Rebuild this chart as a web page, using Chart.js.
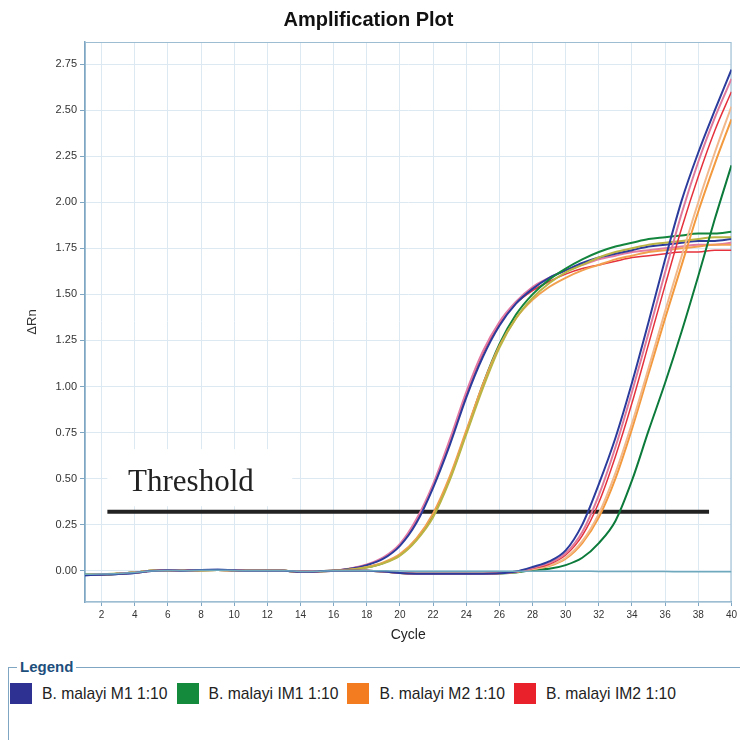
<!DOCTYPE html>
<html>
<head>
<meta charset="utf-8">
<script src="https://cdn.jsdelivr.net/npm/chart.js@4.4.1/dist/chart.umd.min.js"></script>
<style>
  body { margin: 0; background: #fff; font-family: Arial, "Liberation Sans", sans-serif; }
  #wrap { position: relative; width: 740px; height: 740px; overflow: hidden; }
  #grafico { position: absolute; left: 0; top: 0; }
  #legend-box {
    position: absolute; left: 8px; top: 667px; width: 760px; height: 90px;
    border-top: 1px solid #7fa7c4; border-left: 1px solid #7fa7c4;
  }
  #legend-title {
    position: absolute; left: 8px; top: -10px; padding: 0 3px; background: #fff;
    font: bold 15px Arial, "Liberation Sans", sans-serif; color: #1d4f7c;
  }
  #legend-items { position: absolute; left: 1px; top: 15px; display: flex; align-items: center; }
  .item { display: flex; align-items: center; margin-right: 9px; font-size: 15.7px; color: #222; }
  .item span.box { width: 22px; height: 21px; margin-right: 10px; display: inline-block; }
</style>
</head>
<body>
<div id="wrap">
  <canvas id="grafico" width="740" height="650"></canvas>
  <div id="legend-box">
    <div id="legend-title">Legend</div>
    <div id="legend-items"></div>
  </div>
</div>
<script>
// ciclos y marcas de los ejes
const cycles = [1, 2, 3, 4, 5, 6, 7, 8, 9, 10, 11, 12, 13, 14, 15, 16, 17, 18, 19, 20,
  21, 22, 23, 24, 25, 26, 27, 28, 29, 30, 31, 32, 33, 34, 35, 36, 37, 38, 39, 40];
const xTicks = [2, 4, 6, 8, 10, 12, 14, 16, 18, 20, 22, 24, 26, 28, 30, 32, 34, 36, 38, 40];
const yTicks = [0, 0.25, 0.5, 0.75, 1, 1.25, 1.5, 1.75, 2, 2.25, 2.5, 2.75];

const sampleNames = ["B. malayi M1 1:10", "B. malayi IM1 1:10", "B. malayi M2 1:10", "B. malayi IM2 1:10"];
const sampleColors = ["#2e3192", "#138a3c", "#f47c20", "#e8212b"];

const thresholdValue = 0.32;
const thresholdFrom = 2.35;
const thresholdTo = 38.65;

// curvas tempranas (1:10)
const m1Early = [-0.025, -0.022, -0.018, -0.012, -0.002, 0.002, 0, 0.004, 0.005, 0.002,
  0, 0, 0, -0.006, -0.004, 0, 0.01, 0.03, 0.065, 0.135,
  0.26, 0.45, 0.68, 0.94, 1.16, 1.33, 1.45, 1.53, 1.59, 1.63,
  1.67, 1.7, 1.72, 1.74, 1.76, 1.77, 1.78, 1.79, 1.79, 1.8];
const im2Early = [-0.024, -0.021, -0.017, -0.011, -0.002, 0.002, 0, 0.004, 0.004, 0.002,
  0, 0, 0, -0.005, -0.004, 0, 0.012, 0.032, 0.07, 0.14,
  0.27, 0.46, 0.7, 0.96, 1.18, 1.34, 1.45, 1.52, 1.57, 1.61,
  1.64, 1.66, 1.68, 1.7, 1.71, 1.72, 1.73, 1.73, 1.74, 1.74];
const im2EarlyRep = [-0.023, -0.02, -0.016, -0.01, -0.001, 0.002, 0, 0.003, 0.004, 0.002,
  0, 0, 0, -0.005, -0.003, 0, 0.012, 0.034, 0.072, 0.145,
  0.28, 0.47, 0.71, 0.97, 1.19, 1.35, 1.46, 1.54, 1.59, 1.63,
  1.66, 1.69, 1.71, 1.73, 1.74, 1.75, 1.76, 1.77, 1.77, 1.78];
const im1Early = [-0.022, -0.02, -0.016, -0.01, -0.001, 0.002, 0, 0.003, 0.004, 0.002,
  0, 0, 0, -0.005, -0.003, 0, 0.006, 0.018, 0.042, 0.085,
  0.17, 0.3, 0.5, 0.75, 1.01, 1.23, 1.39, 1.5, 1.58, 1.64,
  1.69, 1.73, 1.76, 1.78, 1.8, 1.81, 1.82, 1.83, 1.83, 1.84];
const im1EarlyRep = [-0.022, -0.019, -0.015, -0.01, -0.001, 0.002, 0, 0.003, 0.004, 0.002,
  0, 0, 0, -0.005, -0.003, 0, 0.005, 0.017, 0.04, 0.082,
  0.165, 0.29, 0.49, 0.74, 0.99, 1.21, 1.37, 1.48, 1.56, 1.62,
  1.66, 1.7, 1.73, 1.75, 1.77, 1.78, 1.79, 1.8, 1.81, 1.81];
const m2Early = [-0.023, -0.02, -0.016, -0.01, -0.001, 0.002, 0, 0.003, 0.004, 0.002,
  0, 0, 0, -0.005, -0.003, 0, 0.006, 0.02, 0.045, 0.09,
  0.175, 0.31, 0.51, 0.76, 1.01, 1.22, 1.37, 1.47, 1.54, 1.59,
  1.63, 1.66, 1.69, 1.71, 1.73, 1.74, 1.75, 1.76, 1.77, 1.77];

// curvas tardías
const m1Late = [-0.025, -0.022, -0.018, -0.012, -0.002, 0.002, 0, 0.004, 0.005, 0.002,
  0, 0, 0, -0.006, -0.004, 0, 0, 0, -0.004, -0.012,
  -0.016, -0.017, -0.017, -0.016, -0.016, -0.014, -0.004, 0.02, 0.05, 0.11,
  0.25, 0.47, 0.72, 1.02, 1.35, 1.69, 2.01, 2.27, 2.5, 2.72];
const im2Late = [-0.024, -0.021, -0.017, -0.011, -0.002, 0.002, 0, 0.004, 0.004, 0.002,
  0, 0, 0, -0.005, -0.004, 0, 0, 0, -0.004, -0.012,
  -0.016, -0.017, -0.017, -0.016, -0.016, -0.014, -0.006, 0.012, 0.035, 0.085,
  0.19, 0.37, 0.62, 0.91, 1.23, 1.55, 1.86, 2.14, 2.39, 2.6];
const im2LateRep = [-0.024, -0.021, -0.017, -0.011, -0.002, 0.002, 0, 0.004, 0.004, 0.002,
  0, 0, 0, -0.005, -0.004, 0, 0, 0, -0.004, -0.012,
  -0.016, -0.017, -0.017, -0.016, -0.016, -0.014, -0.005, 0.015, 0.042, 0.095,
  0.21, 0.41, 0.67, 0.97, 1.29, 1.62, 1.94, 2.22, 2.46, 2.67];
const m2Late = [-0.023, -0.02, -0.016, -0.01, -0.001, 0.002, 0, 0.003, 0.004, 0.002,
  0, 0, 0, -0.005, -0.003, 0, 0, 0, -0.004, -0.012,
  -0.016, -0.017, -0.017, -0.016, -0.016, -0.014, -0.007, 0.008, 0.025, 0.065,
  0.15, 0.29, 0.5, 0.77, 1.07, 1.37, 1.66, 1.95, 2.21, 2.45];
const m2LateRep = [-0.023, -0.02, -0.016, -0.01, -0.001, 0.002, 0, 0.003, 0.004, 0.002,
  0, 0, 0, -0.005, -0.003, 0, 0, 0, -0.004, -0.012,
  -0.016, -0.017, -0.017, -0.016, -0.016, -0.014, -0.007, 0.009, 0.028, 0.07,
  0.16, 0.31, 0.53, 0.8, 1.1, 1.41, 1.71, 2.0, 2.27, 2.52];
const im1Late = [-0.022, -0.02, -0.016, -0.01, -0.001, 0.002, 0, 0.003, 0.004, 0.002,
  0, 0, 0, -0.005, -0.003, 0, 0, 0, -0.004, -0.012,
  -0.016, -0.017, -0.017, -0.016, -0.016, -0.015, -0.01, 0.004, 0.01, 0.03,
  0.07, 0.15, 0.27, 0.49, 0.76, 1.02, 1.3, 1.6, 1.91, 2.2];

// control sin molde
const ntc = [-0.02, -0.018, -0.015, -0.01, -0.002, 0.001, 0, 0.003, 0.003, 0.001,
  0, 0, 0, -0.004, -0.003, 0, 0, 0, 0, -0.002,
  -0.003, -0.003, -0.003, -0.003, -0.003, -0.003, -0.003, -0.003, -0.003, -0.003,
  -0.003, -0.004, -0.004, -0.005, -0.005, -0.005, -0.006, -0.006, -0.006, -0.006];

const curvas = [
  { data: ntc, color: "#6fa9bd", width: 1.5 },
  { data: m1Late, color: "#2b3c9c", width: 2 },
  { data: im2LateRep, color: "#e07a9c", width: 2 },
  { data: im2Late, color: "#e5323c", width: 1.5 },
  { data: m2LateRep, color: "#f2b98c", width: 2 },
  { data: m2Late, color: "#f39a3e", width: 2 },
  { data: im1Late, color: "#0c7a3a", width: 2 },
  { data: im1EarlyRep, color: "#b9b444", width: 2 },
  { data: m2Early, color: "#f2a050", width: 2 },
  { data: im1Early, color: "#13853d", width: 2 },
  { data: m1Early, color: "#2b3c9c", width: 2 },
  { data: im2EarlyRep, color: "#e27aa4", width: 2 },
  { data: im2Early, color: "#e5323c", width: 1.5 },
];

function puntos(valores) {
  return valores.map((v, i) => ({ x: cycles[i], y: v }));
}

const datasets = curvas.map((c) => ({
  data: puntos(c.data),
  borderColor: c.color,
  borderWidth: c.width,
  pointRadius: 0,
  cubicInterpolationMode: "monotone",
  fill: false,
}));

datasets.push({
  data: [{ x: thresholdFrom, y: thresholdValue }, { x: thresholdTo, y: thresholdValue }],
  borderColor: "#222",
  borderWidth: 4,
  pointRadius: 0,
  fill: false,
});

/*
  =========================
     ETIQUETA "Threshold" Y MARCO
  =========================
*/
const extras = {
  id: "extras",
  beforeDatasetsDraw(chart) {
    const { ctx, scales, chartArea } = chart;
    const x = scales.x;
    const y = scales.y;
    ctx.save();
    // caja blanca detrás del texto
    const x0 = x.getPixelForValue(2.35);
    const x1 = x.getPixelForValue(13.5);
    const y0 = y.getPixelForValue(0.66);
    const y1 = y.getPixelForValue(0.35);
    ctx.fillStyle = "#fff";
    ctx.fillRect(x0, y0, x1 - x0, y1 - y0);
    ctx.fillStyle = "#222";
    ctx.font = '31px "Liberation Serif", "Times New Roman", serif';
    ctx.textBaseline = "alphabetic";
    ctx.fillText("Threshold", x.getPixelForValue(3.6), y.getPixelForValue(0.43));
    // marco
    ctx.strokeStyle = "#9dbdd3";
    ctx.lineWidth = 1;
    ctx.strokeRect(chartArea.left + 0.5, chartArea.top + 0.5,
      chartArea.right - chartArea.left - 1, chartArea.bottom - chartArea.top - 1);
    ctx.restore();
  },
};

new Chart(document.getElementById("grafico"), {
  type: "line",
  data: { datasets },
  options: {
    responsive: false,
    animation: false,
    layout: { padding: { right: 3, left: 0, bottom: 0, top: 0 } },
    plugins: {
      legend: { display: false },
      tooltip: { enabled: false },
      title: {
        display: true,
        text: "Amplification Plot",
        color: "#111",
        font: { family: "Arial, 'Liberation Sans', sans-serif", size: 20, weight: "bold" },
        padding: { top: 8, bottom: 10 },
      },
    },
    scales: {
      x: {
        type: "linear",
        min: 1,
        max: 40,
        afterBuildTicks(scale) {
          scale.ticks = xTicks.map((v) => ({ value: v }));
        },
        afterFit(scale) {
          scale.height = 48;
        },
        grid: { color: "#dde9f2", tickLength: 4, tickColor: "#7fa7c4" },
        border: { color: "#7fa7c4", width: 1.5 },
        ticks: {
          color: "#333",
          padding: 3,
          maxRotation: 0,
          font: { family: "'Liberation Sans Narrow', Arial, sans-serif", size: 10 },
        },
        title: {
          display: true,
          text: "Cycle",
          color: "#222",
          font: { family: "Arial, 'Liberation Sans', sans-serif", size: 14 },
          padding: { top: 0, bottom: 6 },
        },
      },
      y: {
        min: -0.17,
        max: 2.87,
        afterBuildTicks(scale) {
          scale.ticks = yTicks.map((v) => ({ value: v }));
        },
        afterFit(scale) {
          scale.width = 85;
        },
        grid: { color: "#dde9f2", tickLength: 5, tickColor: "#7fa7c4" },
        border: { color: "#7fa7c4", width: 1.5 },
        ticks: {
          color: "#333",
          padding: 3,
          font: { family: "Arial, 'Liberation Sans', sans-serif", size: 11 },
          callback: (v) => Number(v).toFixed(2),
        },
        title: {
          display: true,
          text: "ΔRn",
          color: "#333",
          font: { family: "Arial, 'Liberation Sans', sans-serif", size: 13 },
          padding: { top: 25, bottom: 0 },
        },
      },
    },
  },
  plugins: [extras],
});

// leyenda en HTML
const contenedor = document.getElementById("legend-items");
sampleNames.forEach((nombre, i) => {
  const item = document.createElement("div");
  item.className = "item";
  const caja = document.createElement("span");
  caja.className = "box";
  caja.style.background = sampleColors[i];
  item.appendChild(caja);
  item.appendChild(document.createTextNode(nombre));
  contenedor.appendChild(item);
});
</script>
</body>
</html>
